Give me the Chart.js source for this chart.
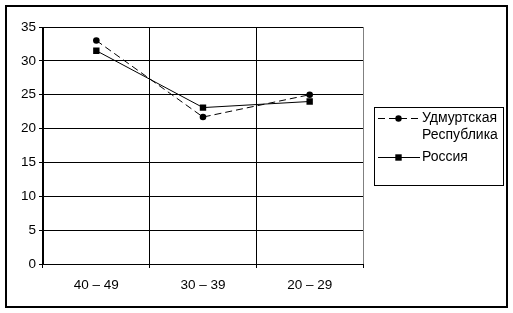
<!DOCTYPE html>
<html>
<head>
<meta charset="utf-8">
<script src="https://cdn.jsdelivr.net/npm/chart.js@4"></script>
<style>
    html, body { margin: 0; padding: 0; background: #fff; }
    #wrap { width: 513px; height: 313px; }
</style>
</head>
<body>
<div id="wrap"><canvas id="chart" width="513" height="313"></canvas></div>
<script>
// Data
const categories = ['40 – 49', '30 – 39', '20 – 29'];
const udmurtia = [33, 21.7, 25];
const russia = [31.5, 23.1, 24];
const yMin = 0;
const yMax = 35;
const yStep = 5;
const seriesNames = [['Удмуртская', 'Республика'], ['Россия']];

const FONT = { family: '"Liberation Sans", Arial, sans-serif', size: 13.5 };
const LEGEND_FONT_SIZE = 14;

function drawMarker(ctx, style, x, y, r) {
    ctx.beginPath();
    if (style === 'rect') {
        ctx.rect(x - r, y - r, 2 * r, 2 * r);
    } else {
        ctx.arc(x, y, r, 0, Math.PI * 2);
    }
    ctx.fill();
}

// Outer frame, gray right edge of the plot, boxed legend
const framePlugin = {
    id: 'frame',
    afterDraw(chart) {
        const ctx = chart.ctx;
        const area = chart.chartArea;
        ctx.save();

        // right edge of plot area
        ctx.strokeStyle = '#808080';
        ctx.lineWidth = 1;
        ctx.beginPath();
        ctx.moveTo(Math.round(area.right) + 0.5, area.top);
        ctx.lineTo(Math.round(area.right) + 0.5, area.bottom);
        ctx.stroke();

        // outer border
        ctx.strokeStyle = '#000';
        ctx.lineWidth = 2;
        ctx.strokeRect(6, 6, 501, 301);

        // legend box
        ctx.lineWidth = 1;
        ctx.strokeRect(374.5, 107.5, 129, 78);

        ctx.font = LEGEND_FONT_SIZE + 'px ' + FONT.family;
        ctx.textBaseline = 'middle';
        ctx.fillStyle = '#000';
        const rows = [118, 157];
        chart.data.datasets.forEach((ds, i) => {
            const y = rows[i] + 0.5;
            ctx.setLineDash(ds.borderDash || []);
            ctx.beginPath();
            ctx.moveTo(378, y);
            ctx.lineTo(420, y);
            ctx.stroke();
            ctx.setLineDash([]);
            drawMarker(ctx, ds.pointStyle, 398.5, y, ds.pointStyle === 'rect' ? 3.2 : 3.2);
            seriesNames[i].forEach((line, j) => {
                ctx.fillText(line, 422, rows[i] + j * 17);
            });
        });
        ctx.restore();
    }
};

document.addEventListener('DOMContentLoaded', () => {
    new Chart(document.getElementById('chart'), {
        type: 'line',
        data: {
            labels: categories,
            datasets: [{
                label: seriesNames[0].join(' '),
                data: udmurtia,
                borderColor: '#000',
                backgroundColor: '#000',
                borderWidth: 1,
                borderDash: [7, 4],
                pointStyle: 'circle',
                pointRadius: 3.3,
                pointBorderWidth: 0,
                tension: 0
            }, {
                label: seriesNames[1].join(' '),
                data: russia,
                borderColor: '#000',
                backgroundColor: '#000',
                borderWidth: 1,
                pointStyle: 'rect',
                pointRadius: 4.5,
                pointBorderWidth: 0,
                tension: 0
            }]
        },
        options: {
            responsive: false,
            animation: false,
            devicePixelRatio: 1,
            layout: { padding: { left: 8, top: 27, right: 150, bottom: 5 } },
            plugins: {
                legend: { display: false },
                tooltip: { enabled: false }
            },
            scales: {
                x: {
                    type: 'category',
                    offset: true,
                    grid: { offset: true, color: '#000', lineWidth: 1, tickLength: 4 },
                    border: { color: '#000' },
                    ticks: { color: '#000', font: FONT, padding: 9, maxRotation: 0 },
                    afterFit: s => { s.height = 44; }
                },
                y: {
                    min: yMin,
                    max: yMax,
                    grid: { color: '#000', lineWidth: 1, tickLength: 4 },
                    border: { color: '#000' },
                    ticks: { stepSize: yStep, color: '#000', font: FONT, padding: 3 },
                    afterFit: s => { s.width = 35; }
                }
            }
        },
        plugins: [framePlugin]
    });
});
</script>
</body>
</html>
